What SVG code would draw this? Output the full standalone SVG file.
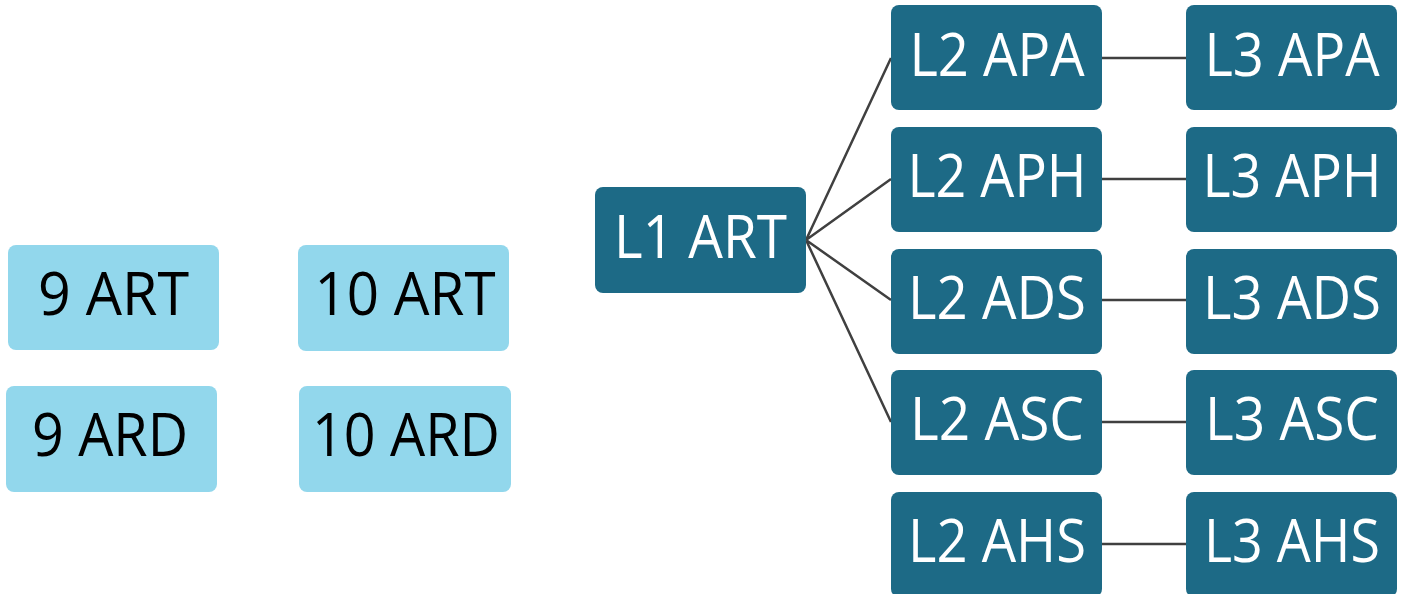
<svg xmlns="http://www.w3.org/2000/svg" width="1404" height="594" viewBox="0 0 1404 594">
<style>
.dark{fill:#1d6a86}
.light{fill:#92d7ec}
.t{font-family:"Open Sans","Noto Sans",sans-serif;font-size:60px;text-anchor:middle}
.tw{fill:#ffffff}
.tb{fill:#000000}
.c{stroke:#404040;stroke-width:2.5;fill:none}
</style>
<rect width="1404" height="594" fill="#ffffff"/>
<g id="connectors">
<path class="c" d="M806 240 L891 58 M806 240 L891 179 M806 240 L891 300 M806 240 L891 422"/>
<path class="c" d="M1102 58 H1186 M1102 179 H1186 M1102 300 H1186 M1102 422 H1186 M1102 544 H1186"/>
</g>
<g id="n9art"><rect class="light" x="8" y="245" width="211" height="105" rx="8"/><text class="t tb" x="113.5" y="315" textLength="151" lengthAdjust="spacingAndGlyphs">9 ART</text></g>
<g id="n9ard"><rect class="light" x="6" y="386" width="211" height="106" rx="8"/><text class="t tb" x="110" y="456" textLength="156" lengthAdjust="spacingAndGlyphs">9 ARD</text></g>
<g id="n10art"><rect class="light" x="298" y="245" width="211" height="106" rx="8"/><text class="t tb" x="405" y="315" textLength="181" lengthAdjust="spacingAndGlyphs">10 ART</text></g>
<g id="n10ard"><rect class="light" x="299" y="386" width="212" height="106" rx="8"/><text class="t tb" x="406" y="456" textLength="188" lengthAdjust="spacingAndGlyphs">10 ARD</text></g>
<g id="l1art"><rect class="dark" x="595" y="187" width="211" height="106" rx="8"/><text class="t tw" x="700.5" y="258" textLength="173" lengthAdjust="spacingAndGlyphs">L1 ART</text></g>
<g id="l2apa"><rect class="dark" x="891" y="5" width="211" height="105" rx="8"/><text class="t tw" x="997" y="76" textLength="175" lengthAdjust="spacingAndGlyphs">L2 APA</text></g>
<g id="l2aph"><rect class="dark" x="891" y="127" width="211" height="105" rx="8"/><text class="t tw" x="997" y="197" textLength="179" lengthAdjust="spacingAndGlyphs">L2 APH</text></g>
<g id="l2ads"><rect class="dark" x="891" y="249" width="211" height="105" rx="8"/><text class="t tw" x="997" y="319" textLength="178" lengthAdjust="spacingAndGlyphs">L2 ADS</text></g>
<g id="l2asc"><rect class="dark" x="891" y="370" width="211" height="105" rx="8"/><text class="t tw" x="997" y="440" textLength="174" lengthAdjust="spacingAndGlyphs">L2 ASC</text></g>
<g id="l2ahs"><rect class="dark" x="891" y="492" width="211" height="105" rx="8"/><text class="t tw" x="997" y="562" textLength="178" lengthAdjust="spacingAndGlyphs">L2 AHS</text></g>
<g id="l3apa"><rect class="dark" x="1186" y="5" width="211" height="105" rx="8"/><text class="t tw" x="1292" y="76" textLength="175" lengthAdjust="spacingAndGlyphs">L3 APA</text></g>
<g id="l3aph"><rect class="dark" x="1186" y="127" width="211" height="105" rx="8"/><text class="t tw" x="1292" y="197" textLength="179" lengthAdjust="spacingAndGlyphs">L3 APH</text></g>
<g id="l3ads"><rect class="dark" x="1186" y="249" width="211" height="105" rx="8"/><text class="t tw" x="1292" y="319" textLength="178" lengthAdjust="spacingAndGlyphs">L3 ADS</text></g>
<g id="l3asc"><rect class="dark" x="1186" y="370" width="211" height="105" rx="8"/><text class="t tw" x="1292" y="440" textLength="174" lengthAdjust="spacingAndGlyphs">L3 ASC</text></g>
<g id="l3ahs"><rect class="dark" x="1186" y="492" width="211" height="105" rx="8"/><text class="t tw" x="1292" y="562" textLength="176" lengthAdjust="spacingAndGlyphs">L3 AHS</text></g>
</svg>
